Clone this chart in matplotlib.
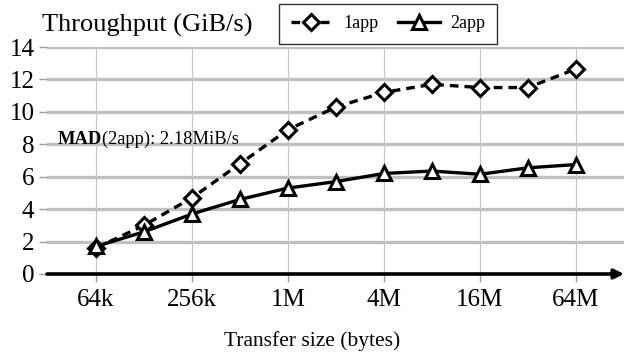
import matplotlib.pyplot as plt

# Data
sizes = ['64k', '128k', '256k', '512k', '1M', '2M', '4M', '8M', '16M', '32M', '64M']
oneApp = [1.6, 3.0, 4.7, 6.8, 8.9, 10.3, 11.2, 11.7, 11.5, 11.5, 12.65]
twoApp = [1.7, 2.6, 3.7, 4.6, 5.3, 5.7, 6.2, 6.35, 6.15, 6.55, 6.75]
yTicks = [0, 2, 4, 6, 8, 10, 12, 14]

plt.rcParams['font.family'] = ['Liberation Serif', 'DejaVu Serif']

W, H = 625, 354
fig = plt.figure(figsize=(W / 100, H / 100), dpi=100)
ax = fig.add_axes([47 / W, 80 / H, 577 / W, 227 / H])

x = list(range(len(sizes)))

# Gridlines
for v in yTicks[1:]:
    ax.axhline(v, color='#c0c0c0', lw=2.4, zorder=0)
for i in x[::2]:
    ax.axvline(i, color='#c8c8c8', lw=0.9, zorder=0)

ax.plot(x, oneApp, color='black', lw=2.4, ls=(0, (2.6, 1.8)), marker='D',
        ms=8, mfc='white', mec='black', mew=2.2, label='1app', zorder=3)
ax.plot(x, twoApp, color='black', lw=2.4, marker='^', ms=10, mfc='white',
        mec='black', mew=2.2, label='2app', zorder=4)

ax.set_xlim(-1.02, 11.0)
ax.set_ylim(0, 14)
ax.set_xticks(x[::2])
ax.set_xticklabels(sizes[::2], fontsize=18)
ax.set_yticks(yTicks)
ax.set_yticklabels([str(v) for v in yTicks], fontsize=18)
ax.tick_params(axis='both', colors='#a0a0a0', labelcolor='black', length=6, width=1)
ax.tick_params(axis='y', pad=3)
ax.tick_params(axis='x', pad=5)

for s in ['top', 'right', 'left', 'bottom']:
    ax.spines[s].set_visible(False)

# x axis with arrow
ax.annotate('', xy=(1.0, 0), xycoords='axes fraction', xytext=(0, 0),
            arrowprops=dict(arrowstyle='-|>', color='black', lw=2.6,
                            mutation_scale=14, shrinkA=0, shrinkB=0),
            annotation_clip=False, zorder=5)

fig.text(0.5, 1 - 341 / H, 'Transfer size (bytes)', fontsize=15.5, ha='center', va='center')
fig.text(42 / W, 1 - 25 / H, 'Throughput (GiB/s)', fontsize=19, va='center', ha='left')

t1 = fig.text(58 / W, 1 - 139 / H, 'MAD', fontsize=13.3, fontweight='bold', va='center')
fig.canvas.draw()
bb = t1.get_window_extent()
fig.text(bb.x1 / W, 1 - 139 / H, '(2app): 2.18MiB/s', fontsize=13.3, va='center')

leg = ax.legend(loc='center', bbox_to_anchor=(388 / W, 1 - 24 / H),
                bbox_transform=fig.transFigure, ncol=2, fontsize=13, frameon=True,
                fancybox=False, edgecolor='black', handlelength=2.3, handletextpad=0.6,
                columnspacing=1.1, borderpad=0.65)
leg.get_frame().set_linewidth(1.0)

fig.savefig('out.png', dpi=100)
